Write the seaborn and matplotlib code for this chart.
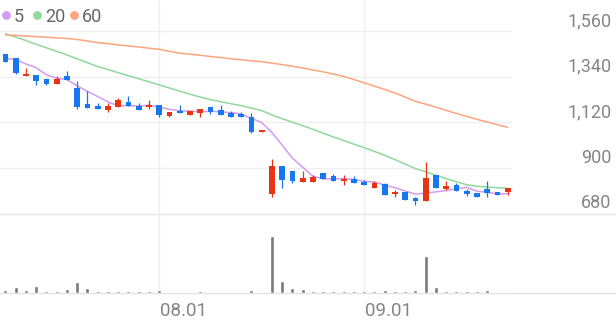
import matplotlib
matplotlib.use("Agg")
import numpy as np
import pandas as pd
import seaborn as sns
import matplotlib.pyplot as plt
from matplotlib.lines import Line2D
from matplotlib.transforms import blended_transform_factory, offset_copy

# ---------------- data ----------------
dates = ["07.11", "07.14", "07.15", "07.16", "07.17", "07.18", "07.21", "07.22", "07.23", "07.24",
         "07.25", "07.28", "07.29", "07.30", "07.31", "08.01", "08.04", "08.05", "08.06", "08.07",
         "08.08", "08.11", "08.12", "08.13", "08.14", "08.18", "08.19", "08.20", "08.21", "08.22",
         "08.25", "08.26", "08.27", "08.28", "08.29", "09.01", "09.02", "09.03", "09.04", "09.05",
         "09.08", "09.09", "09.10", "09.11", "09.12", "09.15", "09.16", "09.17", "09.18", "09.19"]

opens = [1449, 1430, 1343, 1349, 1328, 1307, 1346, 1288, 1208, 1201,
         1179, 1195, 1217, 1200, 1195, 1203, 1153, 1177, 1158, 1164,
         1196, 1180, 1164, 1162, 1148, 1076, 774, 910, 887, 831,
         834, 875, 862, 838, 847, 831, 805, 822, 774, 783,
         754, 741, 868, 801, 820, 789, 778, 798, 786, 783]
highs = [1449, 1430, 1381, 1349, 1330, 1344, 1370, 1320, 1273, 1215,
         1213, 1238, 1248, 1213, 1229, 1203, 1172, 1203, 1177, 1185,
         1196, 1206, 1174, 1169, 1164, 1078, 944, 910, 887, 886,
         868, 875, 873, 868, 862, 841, 836, 830, 794, 786,
         759, 931, 868, 838, 827, 799, 778, 836, 786, 802]
lows = [1410, 1353, 1343, 1301, 1301, 1307, 1324, 1185, 1188, 1184,
        1169, 1195, 1201, 1180, 1184, 1145, 1148, 1167, 1158, 1147,
        1162, 1156, 1146, 1146, 1068, 1076, 762, 805, 830, 831,
        834, 849, 838, 818, 828, 818, 805, 769, 759, 746,
        722, 741, 802, 794, 791, 765, 759, 759, 769, 770]
closes = [1410, 1360, 1353, 1322, 1307, 1330, 1324, 1196, 1191, 1184,
          1199, 1230, 1201, 1180, 1204, 1156, 1172, 1167, 1177, 1185,
          1171, 1156, 1146, 1146, 1074, 1078, 910, 842, 838, 854,
          858, 849, 838, 846, 828, 818, 829, 769, 783, 746,
          741, 854, 802, 814, 791, 773, 759, 778, 769, 802]
volumes = [150, 315, 165, 365, 135, 115, 200, 550, 250, 115,
           100, 100, 100, 115, 115, 185, 50, 50, 50, 115,
           65, 65, 65, 65, 165, 0, 2885, 625, 250, 235,
           135, 115, 115, 115, 115, 115, 100, 185, 115, 115,
           185, 1885, 300, 135, 115, 115, 115, 185, 65, 50]

ma5 = [1428, 1424, 1402, 1384, 1350, 1334, 1327, 1296, 1270, 1245,
       1219, 1200, 1201, 1199, 1203, 1194, 1183, 1176, 1175, 1171,
       1174, 1171, 1167, 1161, 1139, 1120, 1071, 1010, 948, 904,
       860, 848, 847, 849, 844, 836, 832, 818, 805, 789,
       774, 779, 785, 791, 800, 807, 788, 783, 774, 776]
ma20 = [1547, 1532, 1515, 1497, 1480, 1463, 1446, 1427, 1408, 1390,
        1375, 1360, 1345, 1331, 1316, 1301, 1286, 1271, 1256, 1242,
        1230, 1220, 1210, 1201, 1189, 1177, 1156, 1138, 1121, 1104,
        1087, 1068, 1050, 1033, 1015, 998, 980, 961, 941, 919,
        897, 882, 865, 849, 834, 819, 812, 808, 805, 802]
ma60 = [1542, 1540, 1537, 1534, 1531, 1528, 1525, 1520, 1513, 1505,
        1500, 1494, 1489, 1484, 1478, 1473, 1463, 1454, 1449, 1444,
        1438, 1433, 1427, 1422, 1417, 1413, 1406, 1399, 1391, 1382,
        1373, 1364, 1353, 1342, 1327, 1311, 1295, 1279, 1262, 1242,
        1222, 1208, 1193, 1178, 1163, 1149, 1135, 1122, 1109, 1096]

ma_labels = ["5", "20", "60"]
ytick_values = [680, 900, 1120, 1340, 1560]
ytick_labels = ["680", "900", "1,120", "1,340", "1,560"]
xtick_dates = ["08.01", "09.01"]

# ---------------- style ----------------
sns.set_theme(style="white")
plt.rcParams["font.family"] = ["Roboto", "DejaVu Sans"]

RED = "#e63414"
BLUE = "#1677ee"
MA_COLORS = ["#d49bf2", "#8fd99c", "#ffa47e"]
GRID = "#efefef"
TXT = "#858585"

W, H = 616, 321
fig = plt.figure(figsize=(W / 100, H / 100), dpi=100)
fig.patch.set_facecolor("white")


def fy(py):
    return 1 - py / H


price_bottom = 213.6
vol_bottom = 293.4
ax = fig.add_axes([0, fy(price_bottom), 1, price_bottom / H])
axv = fig.add_axes([0, fy(vol_bottom), 1, (vol_bottom - price_bottom) / H])

df = pd.DataFrame({"date": dates, "open": opens, "high": highs, "low": lows,
                   "close": closes, "volume": volumes,
                   "ma5": ma5, "ma20": ma20, "ma60": ma60})
df["x"] = np.arange(len(df))

PX = 10.25      # pixels per candle
X0 = 5.4        # pixel of first candle
xlim = (-X0 / PX, (W - X0) / PX)
ppx = 4.825     # price per pixel
ylim = (680, 680 + price_bottom * ppx)

# ---------------- price panel ----------------
ax.set_xlim(xlim)
ax.set_ylim(ylim)
last_x = df["x"].iloc[-1] + 0.3
for v in ytick_values[1:]:
    ax.hlines(v, xlim[0], last_x, color=GRID, lw=0.9, zorder=0)
ax.axhline(ytick_values[0], color="#e6e6e6", lw=1.0, zorder=0, clip_on=False)

tick_idx = [dates.index(d) for d in xtick_dates]
for t in tick_idx:
    ax.axvline(t, color=GRID, lw=0.9, zorder=0)
    axv.axvline(t, color=GRID, lw=0.9, zorder=0)

up = df["close"] >= df["open"]
cols = np.where(up, RED, BLUE)
ax.vlines(df["x"], df["low"], df["high"], colors=cols, lw=0.9, zorder=3)
body = (df["close"] - df["open"]).abs()
min_h = 2.0 * ppx
h = np.maximum(body, min_h)
mid = (df["close"] + df["open"]) / 2
ax.bar(df["x"], h, bottom=mid - h / 2, width=0.56, color=cols, zorder=4, linewidth=0)

for col, c in zip(["ma5", "ma20", "ma60"], MA_COLORS):
    sns.lineplot(data=df, x="x", y=col, color=c, lw=1.1, ax=ax, zorder=2)

ax.set_xlim(xlim)
ax.set_ylim(ylim)
ax.axis("off")

# y tick labels (right side, above gridlines)
trans = offset_copy(blended_transform_factory(ax.transAxes, ax.transData), fig=fig, y=3.8, units="points")
for v, s in zip(ytick_values, ytick_labels):
    ax.text(611.7 / W, v, s, transform=trans, ha="right", va="baseline",
            fontsize=13, color=TXT, clip_on=False)

# legend
leg_dots = [6, 37.3, 74]
leg_txt = [14, 45.5, 81.5]
for dx, tx, lab, c in zip(leg_dots, leg_txt, ma_labels, MA_COLORS):
    fig.add_artist(Line2D([dx / W], [fy(15)], marker="o", ms=5.3, color=c,
                          linestyle="none", transform=fig.transFigure))
    fig.text(tx / W, fy(15.5), lab, ha="left", va="center_baseline",
             fontsize=13, color="#666666")

# ---------------- volume panel ----------------
sns.barplot(data=df, x="x", y="volume", native_scale=True, color="#7a7a7a",
            saturation=1, width=0.4, ax=axv, zorder=3)
axv.set_xlim(xlim)
vmax = max(volumes)
axv.set_ylim(0, vmax * (vol_bottom - price_bottom) / 57.7)
axv.axhline(0, color="#e3e3e3", lw=1.0, clip_on=False, zorder=2)
axv.axis("off")

tx_trans = offset_copy(blended_transform_factory(axv.transData, fig.transFigure), fig=fig, x=0.8, units="points")
for t, s in zip(tick_idx, xtick_dates):
    axv.text(t, fy(316.3), s, transform=tx_trans, ha="left", va="baseline",
             fontsize=13.5, color=TXT, clip_on=False)

fig.savefig("out.png", dpi=100, facecolor="white")
